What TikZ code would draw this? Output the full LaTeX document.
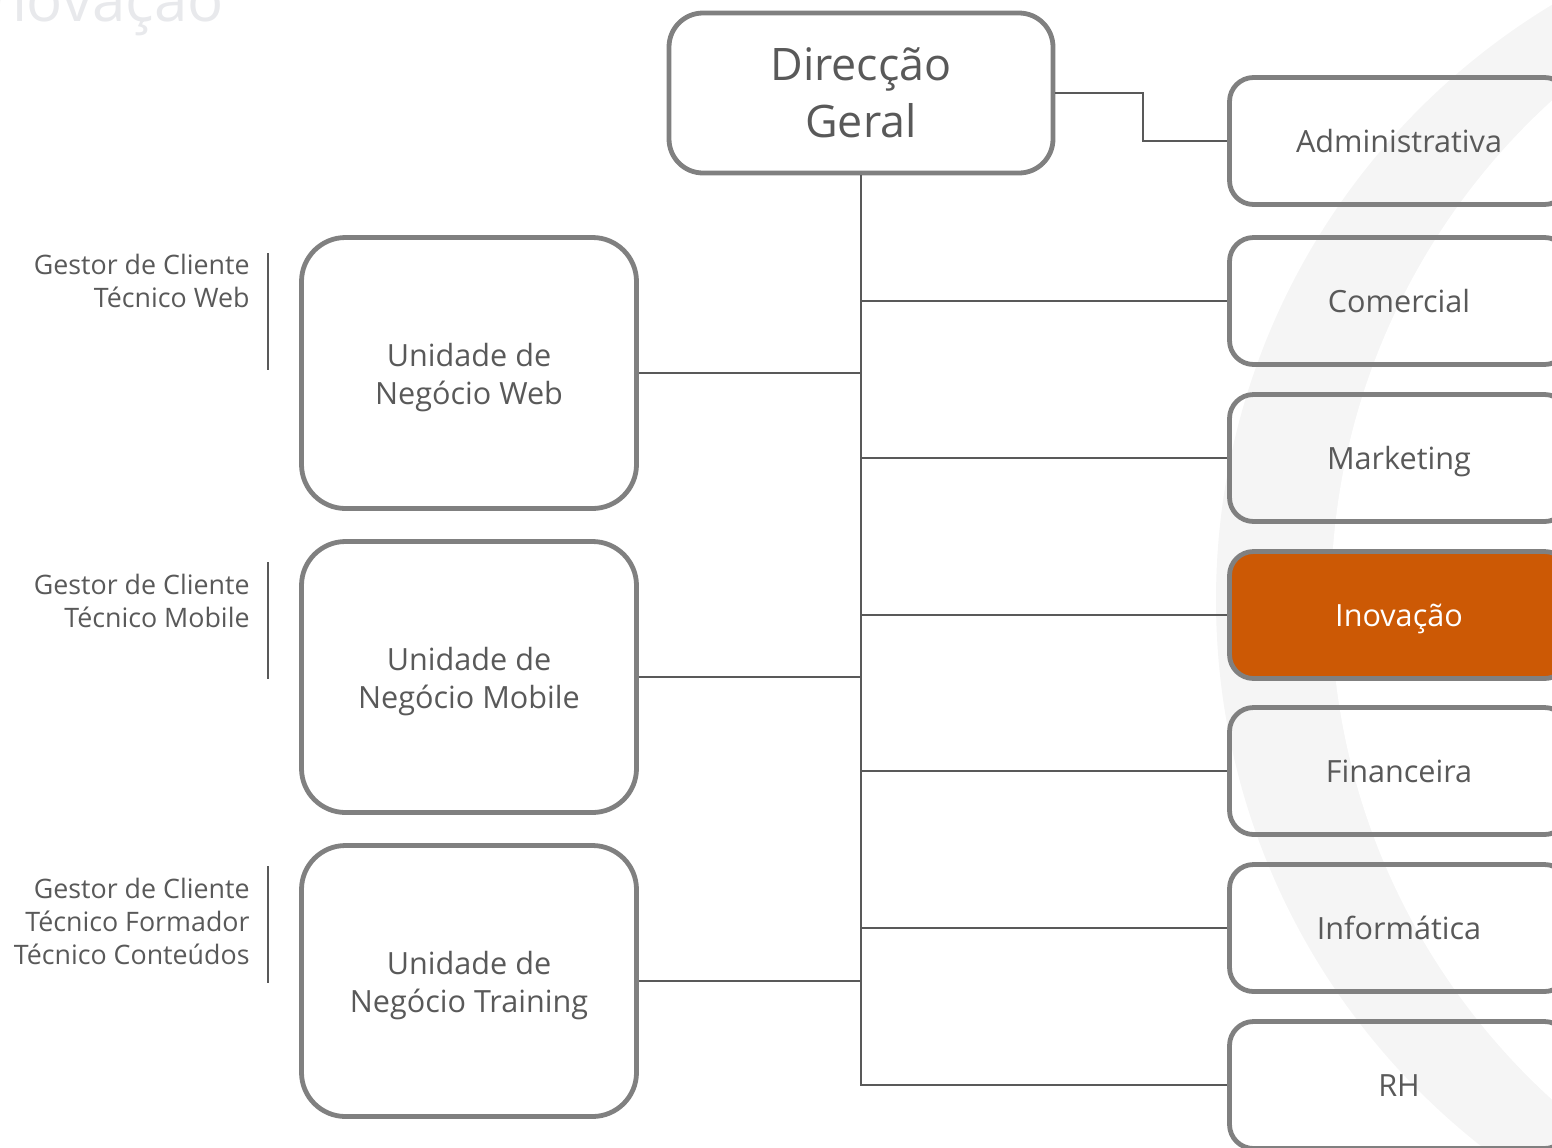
\documentclass[tikz,border=0pt]{standalone}
\usepackage{fontspec}
\setmainfont{Open Sans}
\usepackage{tikz}
\definecolor{org-text}{HTML}{595959}
\definecolor{org-line}{HTML}{595959}
\definecolor{org-border}{HTML}{808080}
\definecolor{org-orange}{HTML}{CC5905}
\definecolor{org-swoosh}{HTML}{F5F5F5}
\definecolor{org-ghost}{HTML}{E8E9EC}

\begin{document}
\begin{tikzpicture}[x=0.5pt, y=-0.5pt,
		box/.style={draw=org-border, line width=2.4pt, text=org-text, align=center, inner sep=0pt, rounded corners=12pt, minimum width=169.5pt, minimum height=63.5pt, font=\fontsize{15.3}{19}\selectfont},
		dept/.style={box, text height=11.6pt, text depth=0pt},
		unit/.style={box, execute at begin node={\rule{0pt}{35pt}}, rounded corners=22pt, minimum width=167.5pt, minimum height=135.5pt},
		conn/.style={draw=org-line, line width=1pt},
		side/.style={text=org-text, align=right, anchor=north east, inner sep=0pt, font=\fontsize{13.4}{16.5}\selectfont}]
		
		% Page frame
		\useasboundingbox (0,0) rectangle (1552,1147);
		\clip (0,0) rectangle (1552,1147);
		
		% Background swoosh and faded title
		\fill[org-swoosh] (1911,600) circle[radius=695];
		\fill[white] (2006,600) circle[radius=675];
		\node (ghost) [anchor=base east, inner sep=0pt, text=org-ghost, font=\fontsize{30}{36}\selectfont] at (224,21) {Inovação};
		
		% Draw the top box
		\node (dg) [box, rounded corners=17pt, minimum width=192pt, minimum height=80pt, font=\fontsize{22.4}{28.5}\selectfont] at (861,93) {Direcção\\Geral};
		
		% Draw the departments
		\node (adm) [dept] at (1399,141) {Administrativa};
		\node (com) [dept] at (1399,301) {Comercial};
		\node (mkt) [dept] at (1399,458) {Marketing};
		\node (inov) [dept, fill=org-orange, text=white] at (1399,615) {Inovação};
		\node (fin) [dept] at (1399,771) {Financeira};
		\node (inf) [dept] at (1399,928) {Informática};
		\node (rh) [dept] at (1399,1085) {RH};
		
		% Draw the business units
		\node (unweb) [unit] at (469,373) {Unidade de\\Negócio Web};
		\node (unmob) [unit] at (469,677) {Unidade de\\Negócio Mobile};
		\node (untrn) [unit] at (469,981) {Unidade de\\Negócio Training};
		
		% Add the team labels
		\node (tweb) [side] at (250,254) {Gestor de Cliente\\Técnico Web};
		\node (tmob) [side] at (250,574) {Gestor de Cliente\\Técnico Mobile};
		\node (ttrn) [side] at (250,878) {Gestor de Cliente\\Técnico Formador\\Técnico Conteúdos};
		\draw[conn] (268,253) -- (268,370);
		\draw[conn] (268,562) -- (268,679);
		\draw[conn] (268,866) -- (268,983);
		
		% Connect the boxes
		\draw[conn] (dg.east) -- ++(88,0) |- (adm.west);
		\draw[conn] (dg.south) |- (rh.west);
		\draw[conn] (dg.south |- com.west) -- (com.west);
		\draw[conn] (dg.south |- mkt.west) -- (mkt.west);
		\draw[conn] (dg.south |- inov.west) -- (inov.west);
		\draw[conn] (dg.south |- fin.west) -- (fin.west);
		\draw[conn] (dg.south |- inf.west) -- (inf.west);
		\draw[conn] (unweb.east) -- (unweb.east -| dg.south);
		\draw[conn] (unmob.east) -- (unmob.east -| dg.south);
		\draw[conn] (untrn.east) -- (untrn.east -| dg.south);
	\end{tikzpicture}
\end{document}
